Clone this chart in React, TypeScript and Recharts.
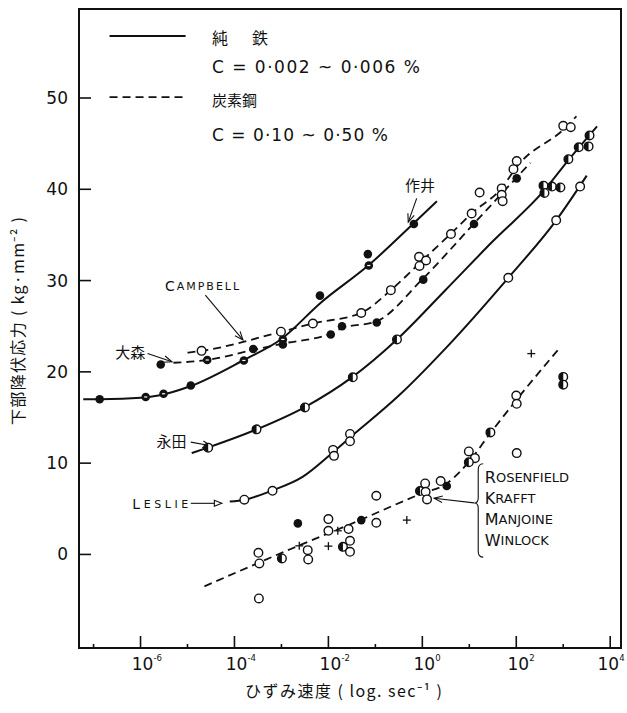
import React from "react";
import {
  ComposedChart,
  XAxis,
  YAxis,
  Line,
  Scatter,
  ReferenceLine,
  ReferenceDot,
  ReferenceArea,
} from "recharts";

type Pt = [number, number, string];
type Cp = [number, number];

// x = log10(strain rate, 1/s), y = lower yield stress (kg/mm^2)
const X_DOMAIN: [number, number] = [-7.31, 4.23];
const Y_DOMAIN: [number, number] = [-10.25, 59.75];
const xTicks = [-7, -6, -5, -4, -3, -2, -1, 0, 1, 2, 3, 4];
const yTicks = [0, 10, 20, 30, 40, 50];

// markers: o = open, f = filled, h = half, s = filled w/ stripe, + = cross
const sakuiPts: Pt[] = [
  [-6.87, 17.0, "f"], [-5.89, 17.25, "s"], [-5.51, 17.6, "s"], [-4.93, 18.5, "f"],
  [-3.8, 21.25, "s"], [-3.6, 22.5, "f"], [-2.97, 23.55, "s"], [-2.97, 23.0, "f"],
  [-2.18, 28.35, "f"], [-1.16, 32.9, "f"], [-1.14, 31.65, "s"], [-0.18, 36.2, "f"],
];
const campbellPts: Pt[] = [
  [-4.7, 22.3, "o"], [-3.01, 24.4, "o"], [-2.33, 25.3, "o"], [-1.3, 26.45, "o"],
  [-0.67, 28.95, "o"], [-0.07, 32.6, "o"], [0.08, 32.2, "o"], [-0.06, 31.6, "o"],
  [0.61, 35.1, "o"], [1.05, 37.35, "o"], [1.22, 39.65, "o"], [1.69, 40.1, "o"],
  [1.69, 39.4, "o"], [1.71, 38.7, "o"], [1.94, 42.2, "o"], [2.01, 43.1, "o"],
  [3.0, 46.95, "o"], [3.16, 46.8, "o"],
];
const omoriPts: Pt[] = [
  [-5.57, 20.8, "f"], [-4.58, 21.3, "s"], [-1.95, 24.1, "f"], [-1.71, 25.0, "f"],
  [-0.97, 25.4, "f"], [0.02, 30.1, "f"], [1.1, 36.2, "f"], [2.01, 41.2, "f"],
];
const nagataPts: Pt[] = [
  [-4.56, 11.7, "h"], [-3.53, 13.7, "h"], [-2.5, 16.1, "h"], [-1.48, 19.4, "h"],
  [-0.54, 23.55, "h"], [2.58, 40.4, "h"], [2.6, 39.6, "h"], [2.76, 40.3, "h"],
  [2.94, 40.2, "h"], [3.11, 43.3, "h"], [3.33, 44.6, "h"], [3.54, 44.7, "h"],
  [3.56, 45.9, "h"],
];
const lesliePts: Pt[] = [
  [-3.79, 6.0, "o"], [-3.19, 6.97, "o"], [-1.9, 11.45, "o"], [-1.88, 10.8, "o"],
  [-1.54, 13.2, "o"], [-1.54, 12.4, "o"], [1.83, 30.3, "o"], [2.85, 36.6, "o"],
  [3.36, 40.3, "o"],
];
const rosenfieldPts: Pt[] = [
  [-3.49, 0.18, "o"], [-3.47, -0.99, "o"], [-3.48, -4.82, "o"], [-2.99, -0.44, "h"],
  [-2.65, 3.4, "f"], [-2.62, 0.94, "+"], [-2.44, 0.47, "o"], [-2.43, -0.55, "o"],
  [-2.0, 3.87, "o"], [-2.0, 2.59, "o"], [-1.8, 2.59, "+"], [-2.0, 0.91, "+"],
  [-1.69, 0.83, "h"], [-1.57, 2.78, "o"], [-1.54, 1.49, "o"], [-1.54, 0.29, "o"],
  [-1.3, 3.76, "f"], [-0.98, 6.43, "o"], [-0.98, 3.47, "o"], [-0.33, 3.76, "+"],
  [-0.05, 6.94, "h"], [0.06, 7.78, "o"], [0.07, 6.86, "o"], [0.1, 6.03, "o"],
  [0.39, 8.04, "o"], [0.52, 7.49, "f"], [0.99, 11.28, "o"], [1.12, 10.55, "o"],
  [0.99, 10.1, "h"], [1.45, 13.37, "h"], [2.0, 17.4, "o"], [2.01, 16.5, "o"],
  [2.01, 11.1, "o"], [2.32, 22.0, "+"], [3.0, 19.45, "h"], [3.0, 18.6, "h"],
];

// curves
const pureIronCurve: Cp[] = [
  [-7.22, 17.0], [-6.87, 17.0], [-5.9, 17.2], [-5.5, 17.55], [-4.93, 18.45],
  [-3.8, 21.3], [-3.0, 23.6], [-2.18, 27.5], [-1.14, 31.7], [-0.2, 36.2], [0.31, 38.7],
];
const nagataCurve: Cp[] = [
  [-4.91, 11.1], [-4.57, 11.7], [-3.53, 13.7], [-2.5, 16.15], [-1.5, 19.4],
  [-0.54, 23.55], [0.5, 29.0], [1.5, 34.3], [2.6, 39.9], [3.11, 43.2], [3.72, 46.9],
];
const leslieCurve: Cp[] = [
  [-4.1, 5.8], [-3.78, 6.0], [-3.2, 7.0], [-2.55, 8.5], [-1.9, 11.2], [-1.54, 12.8],
  [-0.5, 17.4], [0.5, 22.6], [1.83, 30.3], [2.85, 36.6], [3.5, 41.5],
];
const campbellCurve: Cp[] = [
  [-5.0, 22.1], [-4.7, 22.3], [-3.0, 24.4], [-2.33, 25.3], [-1.29, 26.5],
  [-0.66, 29.0], [0.0, 32.2], [0.62, 35.2], [1.06, 37.4], [1.7, 40.2],
  [2.0, 42.4], [3.08, 46.9], [3.28, 48.0],
];
const omoriCurve: Cp[] = [
  [-5.3, 21.0], [-4.58, 21.3], [-3.6, 22.4], [-2.97, 23.1], [-1.95, 24.2],
  [-1.71, 24.8], [-0.99, 25.5], [0.01, 30.2], [1.11, 36.3], [2.01, 41.3], [2.3, 42.9],
];
const rosenfieldCurve: Cp[] = [
  [-4.64, -3.5], [-2.8, 0.6], [-1.4, 3.6], [0.0, 6.7], [0.5, 7.7], [1.0, 10.2],
  [1.45, 13.3], [2.0, 16.9], [2.92, 22.6],
];

const rosenfieldNames = ["ROSENFIELD", "KRAFFT", "MANJOINE", "WINLOCK"];

const INK = "#111";
const LATIN = "'DejaVu Sans', sans-serif";
const CJK = "'Noto Sans CJK JP', sans-serif";

const pts = (a: Pt[]) => a.map(([x, y, k]) => ({ x, y, k }));
const cps = (a: Cp[]) => a.map(([x, y]) => ({ x, y }));

const R = 4.3;

const Marker = (props: any) => {
  const { cx, cy, payload } = props;
  if (cx == null || cy == null) return null;
  const k = payload.k;
  if (k === "+") {
    return (
      <g stroke={INK} strokeWidth={1.3}>
        <line x1={cx - 4} x2={cx + 4} y1={cy} y2={cy} />
        <line x1={cx} x2={cx} y1={cy - 4} y2={cy + 4} />
      </g>
    );
  }
  if (k === "f") return <circle cx={cx} cy={cy} r={R} fill={INK} />;
  if (k === "s") {
    return (
      <g>
        <circle cx={cx} cy={cy} r={R} fill={INK} />
        <line x1={cx - 1.6} x2={cx + 1.6} y1={cy} y2={cy} stroke="#fff" strokeWidth={1.2} />
      </g>
    );
  }
  if (k === "h") {
    return (
      <g>
        <circle cx={cx} cy={cy} r={R} fill="#fff" stroke={INK} strokeWidth={1.4} />
        <path d={`M${cx},${cy - R} A${R},${R} 0 0 0 ${cx},${cy + R} Z`} fill={INK} />
      </g>
    );
  }
  return <circle cx={cx} cy={cy} r={R} fill="#fff" stroke={INK} strokeWidth={1.4} />;
};

const XTick = (props: any) => {
  const { x, y, payload } = props;
  const v = payload.value;
  const major = v % 2 === 0;
  // last label sits against the right edge of the page
  const sx = v === 4 ? x - 4 : x;
  return (
    <g>
      <line x1={x} x2={x} y1={y} y2={y - (major ? 12 : 4)} stroke={INK} strokeWidth={1.6} />
      {major && (
        <text fill={INK} fontFamily={LATIN}>
          <tspan x={sx + 2} y={y + 22} textAnchor="middle" fontSize={17}>10</tspan>
          <tspan x={sx + 13} y={y + 13} fontSize={8.5}>{v === 0 ? "0" : String(v)}</tspan>
        </text>
      )}
    </g>
  );
};

const YTick = (props: any) => {
  const { x, y, payload } = props;
  return (
    <g>
      <line x1={x} x2={x + 12} y1={y} y2={y} stroke={INK} strokeWidth={1.6} />
      <text x={x - 11} y={y} dy={6} textAnchor="end" fontSize={17} fill={INK} fontFamily={LATIN}>
        {payload.value}
      </text>
    </g>
  );
};

const arrow = (open = false) => (p: any) => {
  const { x1, y1, x2, y2 } = p;
  const a = Math.atan2(y2 - y1, x2 - x1);
  const L = open ? 8 : 9;
  const s = 0.38;
  const p1 = [x2 - L * Math.cos(a - s), y2 - L * Math.sin(a - s)];
  const p2 = [x2 - L * Math.cos(a + s), y2 - L * Math.sin(a + s)];
  return (
    <g>
      <line x1={x1} y1={y1} x2={x2} y2={y2} stroke={INK} strokeWidth={1.1} />
      <path
        d={`M${p1} L${x2},${y2} L${p2}${open ? " Z" : ""}`}
        fill={open ? "#fff" : "none"}
        stroke={INK}
        strokeWidth={1.1}
      />
    </g>
  );
};

const brace = (p: any) => {
  const { x1, y1, y2 } = p;
  const m = y1 + 0.42 * (y2 - y1);
  const d = `M${x1 + 5},${y1} Q${x1},${y1} ${x1},${y1 + 6} L${x1},${m - 5} Q${x1},${m} ${x1 - 4},${m}
    Q${x1},${m} ${x1},${m + 5} L${x1},${y2 - 6} Q${x1},${y2} ${x1 + 5},${y2}`;
  return <path d={d} fill="none" stroke={INK} strokeWidth={1.1} />;
};

const SmallCaps = ({ word, big = 14, small = 11 }: { word: string; big?: number; small?: number }) => (
  <>
    <tspan fontSize={big}>{word[0]}</tspan>
    <tspan fontSize={small}>{word.slice(1)}</tspan>
  </>
);

const textAt = (content: React.ReactNode, opts: any = {}) => (p: any) => (
  <text
    x={p.cx}
    y={p.cy}
    dominantBaseline="central"
    fill={INK}
    fontFamily={opts.cjk ? CJK : LATIN}
    fontSize={opts.size || 16}
    textAnchor={opts.anchor || "middle"}
    textLength={opts.len}
    lengthAdjust="spacing"
  >
    {content}
  </text>
);

const curveProps = { type: "monotone" as const, stroke: INK, dot: false, activeDot: false, isAnimationActive: false };

export default function App() {
  return (
    <div style={{ position: "absolute", left: 0, top: 0, width: 627, height: 713, background: "#fff" }}>
      <ComposedChart width={627} height={713} margin={{ top: 9, right: 6, bottom: 5, left: 0 }}>
        <XAxis
          type="number"
          dataKey="x"
          domain={X_DOMAIN}
          allowDataOverflow
          ticks={xTicks}
          interval={0}
          height={60}
          tickSize={0}
          tickMargin={0}
          axisLine={false}
          tickLine={false}
          tick={XTick}
        />
        <YAxis
          type="number"
          dataKey="y"
          domain={Y_DOMAIN}
          allowDataOverflow
          ticks={yTicks}
          interval={0}
          width={79}
          tickSize={0}
          tickMargin={0}
          axisLine={false}
          tickLine={false}
          tick={YTick}
        />
        <ReferenceArea
          x1={X_DOMAIN[0]}
          x2={X_DOMAIN[1]}
          y1={Y_DOMAIN[0]}
          y2={Y_DOMAIN[1]}
          fill="none"
          fillOpacity={0}
          stroke={INK}
          strokeWidth={2}
        />

        {/* legend */}
        <ReferenceLine segment={[{ x: -6.66, y: 56.8 }, { x: -5.04, y: 56.8 }]} stroke={INK} strokeWidth={2} />
        <ReferenceLine
          segment={[{ x: -6.66, y: 50.1 }, { x: -5.04, y: 50.1 }]}
          stroke={INK}
          strokeWidth={1.8}
          strokeDasharray="8 5"
        />
        <ReferenceDot x={-4.48} y={56.7} shape={textAt("純　鉄", { cjk: true, anchor: "start", size: 16, len: 56 })} />
        <ReferenceDot x={-4.48} y={53.4} shape={textAt("C = 0·002  ~  0·006 %", { anchor: "start", size: 17, len: 208 })} />
        <ReferenceDot x={-4.48} y={49.8} shape={textAt("炭素鋼", { cjk: true, anchor: "start", size: 15 })} />
        <ReferenceDot x={-4.48} y={45.9} shape={textAt("C = 0·10  ~  0·50 %", { anchor: "start", size: 17, len: 176 })} />

        {/* curves */}
        <Line data={cps(pureIronCurve)} dataKey="y" strokeWidth={2} {...curveProps} />
        <Line data={cps(nagataCurve)} dataKey="y" strokeWidth={2} {...curveProps} />
        <Line data={cps(leslieCurve)} dataKey="y" strokeWidth={2} {...curveProps} />
        <Line data={cps(campbellCurve)} dataKey="y" strokeWidth={1.8} strokeDasharray="8 5" {...curveProps} />
        <Line data={cps(omoriCurve)} dataKey="y" strokeWidth={1.8} strokeDasharray="8 5" {...curveProps} />
        <Line data={cps(rosenfieldCurve)} dataKey="y" strokeWidth={1.8} strokeDasharray="8 5" {...curveProps} />

        {/* measured points */}
        <Scatter data={pts(sakuiPts)} shape={Marker} isAnimationActive={false} />
        <Scatter data={pts(campbellPts)} shape={Marker} isAnimationActive={false} />
        <Scatter data={pts(omoriPts)} shape={Marker} isAnimationActive={false} />
        <Scatter data={pts(nagataPts)} shape={Marker} isAnimationActive={false} />
        <Scatter data={pts(lesliePts)} shape={Marker} isAnimationActive={false} />
        <Scatter data={pts(rosenfieldPts)} shape={Marker} isAnimationActive={false} />

        {/* annotations */}
        <ReferenceDot x={-0.05} y={40.5} shape={textAt("作井", { cjk: true, size: 15 })} />
        <ReferenceLine segment={[{ x: -0.12, y: 39.0 }, { x: -0.3, y: 36.4 }]} shape={arrow()} />
        <ReferenceDot x={-4.69} y={29.4} shape={textAt(<SmallCaps word="CAMPBELL" />, { len: 74 })} />
        <ReferenceLine segment={[{ x: -4.62, y: 28.4 }, { x: -3.82, y: 23.5 }]} shape={arrow()} />
        <ReferenceDot x={-6.22} y={22.2} shape={textAt("大森", { cjk: true, size: 15 })} />
        <ReferenceLine segment={[{ x: -5.85, y: 22.0 }, { x: -5.33, y: 21.1 }]} shape={arrow()} />
        <ReferenceDot x={-5.34} y={12.5} shape={textAt("永田", { cjk: true, size: 15 })} />
        <ReferenceLine segment={[{ x: -4.93, y: 12.3 }, { x: -4.5, y: 11.9 }]} shape={arrow()} />
        <ReferenceDot x={-5.58} y={5.55} shape={textAt(<SmallCaps word="LESLIE" />, { len: 56 })} />
        <ReferenceLine segment={[{ x: -4.93, y: 5.6 }, { x: -4.27, y: 5.6 }]} shape={arrow(true)} />
        <ReferenceLine segment={[{ x: 1.19, y: 9.93 }, { x: 1.19, y: -0.3 }]} shape={brace} />
        <ReferenceLine segment={[{ x: 1.1, y: 5.65 }, { x: 0.25, y: 6.15 }]} shape={arrow()} />
        {rosenfieldNames.map((n, i) => (
          <ReferenceDot
            key={n}
            x={1.33}
            y={8.5 - i * 2.3}
            shape={textAt(<SmallCaps word={n} big={16} small={13} />, { anchor: "start" })}
          />
        ))}
      </ComposedChart>

      <svg
        width={627}
        height={713}
        style={{ position: "absolute", left: 0, top: 0, pointerEvents: "none" }}
      >
        <text
          x={0}
          y={0}
          transform="translate(24,425) rotate(-90)"
          fontSize={16}
          fontFamily={CJK}
          fill={INK}
          textLength={208}
          lengthAdjust="spacing"
        >
          下部降伏応力 ( kg·mm⁻² )
        </text>
        <text x={245} y={697} fontSize={16} fontFamily={CJK} fill={INK} textLength={197} lengthAdjust="spacing">
          ひずみ速度 ( log. sec⁻¹ )
        </text>
      </svg>
    </div>
  );
}
